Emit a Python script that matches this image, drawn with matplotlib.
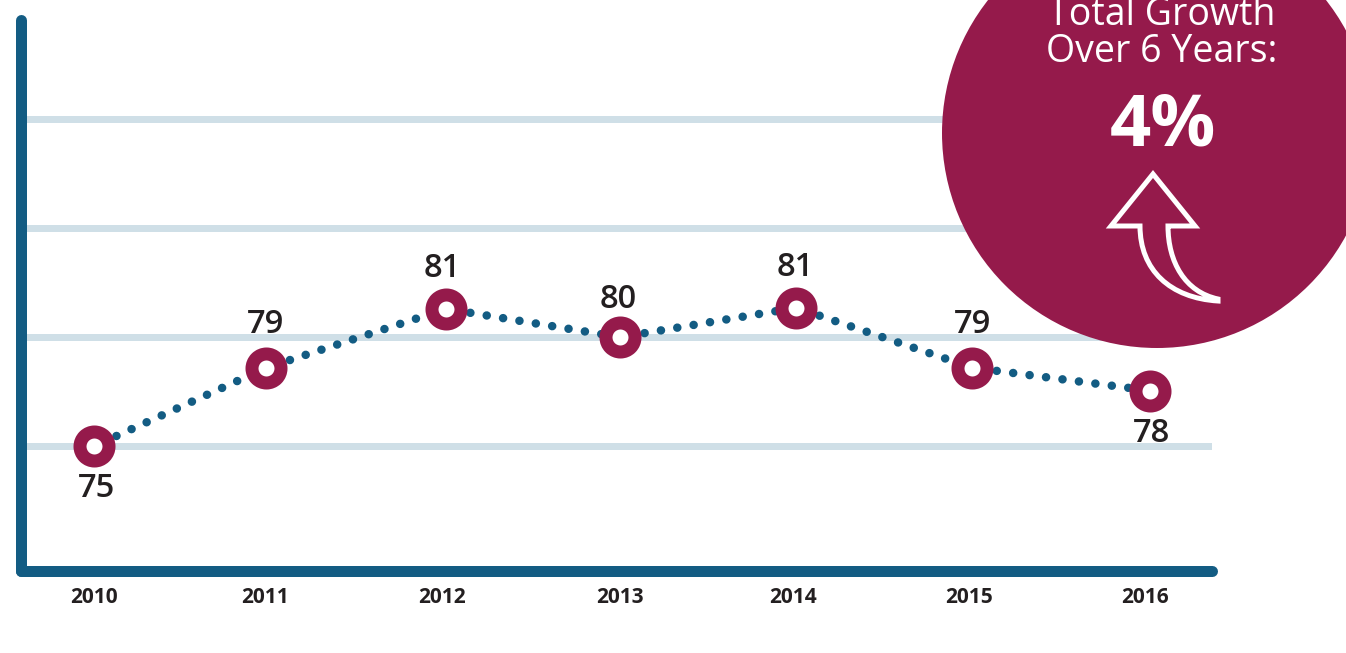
import matplotlib
matplotlib.use('Agg')
import matplotlib.pyplot as plt
from matplotlib.patches import Circle, PathPatch
from matplotlib.path import Path

plt.rcParams['font.family'] = ['Open Sans', 'DejaVu Sans']

# данные
years = ['2010', '2011', '2012', '2013', '2014', '2015', '2016']
point_x = [2010, 2010.98, 2012.0, 2012.99, 2013.99, 2014.99, 2016]
values = [75.0, 78.6, 81.3, 80.0, 81.35, 78.6, 77.55]
labels = ['75', '79', '81', '80', '81', '79', '78']
tick_x = [2010, 2010.97, 2011.98, 2012.99, 2013.97, 2014.97, 2015.97]
grid_values = [75, 80, 85, 90]
label_below = [True, False, False, False, False, False, True]
# подгонка подписей в пикселях
label_dx = [2, -1, -4, -3, -1, 0, 1]
label_dy = [0, 2, -1, -3, -1, 2, 0]

BLUE = '#135c83'
MAROON = '#951a4b'
GRID = '#cfdfe7'
TEXT = '#231f20'

W, H = 1346, 653
px = 1 / 100 * 72  # один пиксель в пунктах при dpi=100

fig = plt.figure(figsize=(W / 100, H / 100), dpi=100)

# основная ось: левый край x=21, низ y=571, правый край 1212, верх 20
ax = fig.add_axes([21 / W, 1 - 571 / H, (1212 - 21) / W, (571 - 20) / H])
x_per_px = 6 / (1150 - 94)
ax.set_xlim(2010 - (94 - 21) * x_per_px, 2016 + (1212 - 1150) * x_per_px)
y_per_px = 5 / 109
ax.set_ylim(75 - (571 - 446.2) * y_per_px, 75 + (446.2 - 20) * y_per_px)

for side in ['top', 'right']:
    ax.spines[side].set_visible(False)
for side in ['left', 'bottom']:
    ax.spines[side].set_color(BLUE)
    ax.spines[side].set_linewidth(11 * px)
    ax.spines[side].set_capstyle('round')

ax.set_yticks(grid_values)
ax.set_yticklabels([])
ax.set_xticks(tick_x)
ax.set_xticklabels(years, fontsize=15, fontweight='bold', color=TEXT)
ax.tick_params(length=0)
ax.tick_params(axis='x', pad=11.5)
ax.grid(True, axis='y', color=GRID, linewidth=7 * px)
ax.set_axisbelow(True)

# пунктир из круглых точек, каждый отрезок отдельно - точки начинаются сразу от кольца
for i in range(len(point_x) - 1):
    ax.plot(point_x[i:i + 2], values[i:i + 2], color=BLUE, linewidth=8.5 * px,
            linestyle=(1.0, (0.01, 1.94)), dash_capstyle='round', zorder=3)
# кольца
ax.plot(point_x, values, linestyle='none', marker='o', markersize=29 * px,
        markerfacecolor='white', markeredgecolor=MAROON, markeredgewidth=13 * px, zorder=4)

for x, y, text, below, dx, dy in zip(point_x, values, labels, label_below, label_dx, label_dy):
    ax.annotate(text, (x, y), xytext=((0.5 + dx) * px, ((-26 if below else 24.5) + dy) * px),
                textcoords='offset points', ha='center', va='top' if below else 'bottom',
                fontsize=23.5, fontweight=600, color=TEXT, zorder=5)

# оверлей в пикселях для круга со стрелкой
over = fig.add_axes([0, 0, 1, 1], facecolor='none')
over.set_xlim(0, W)
over.set_ylim(H, 0)
over.axis('off')
over.add_patch(Circle((1157, 133), 215, facecolor=MAROON, edgecolor='none', zorder=6))

over.text(1162, 15, 'Total Growth', color='white', fontsize=27, fontweight=400,
          ha='center', va='center', zorder=7)
over.text(1162, 52, 'Over 6 Years:', color='white', fontsize=27, fontweight=400,
          ha='center', va='center', zorder=7)
over.text(1163, 126, '4%', color='white', fontsize=52, fontweight='bold',
          ha='center', va='center', zorder=7)

verts = [(1153, 174), (1195, 226), (1168, 226),
         (1168, 262), (1185, 292), (1218, 299),
         (1218, 301),
         (1170, 298), (1140, 270), (1140, 226),
         (1111, 226), (1153, 174)]
codes = [Path.MOVETO, Path.LINETO, Path.LINETO,
         Path.CURVE4, Path.CURVE4, Path.CURVE4,
         Path.LINETO,
         Path.CURVE4, Path.CURVE4, Path.CURVE4,
         Path.LINETO, Path.CLOSEPOLY]
over.add_patch(PathPatch(Path(verts, codes), facecolor='none', edgecolor='white',
                         linewidth=5 * px, joinstyle='miter', zorder=7))

fig.savefig('out.png', dpi=100)
